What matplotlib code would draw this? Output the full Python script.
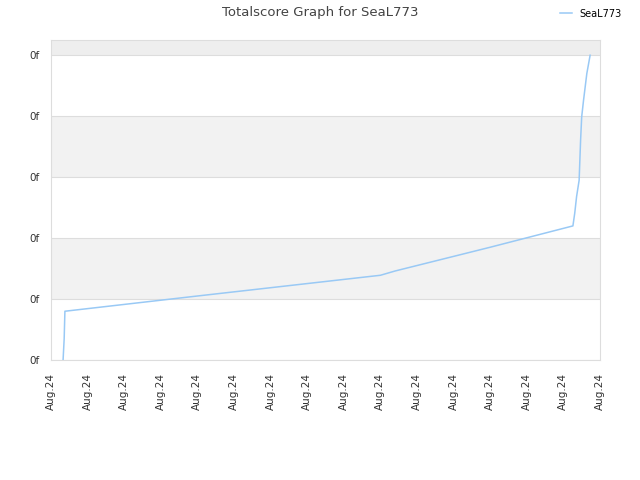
import numpy as np
import matplotlib.pyplot as plt

# curve (x in tick units, y in gridline units)
x_vals = [0.33, 0.36, 0.38, 4.0, 9.0, 9.4, 12.0, 14.26, 14.31, 14.36, 14.43, 14.47, 14.50, 14.55, 14.64, 14.73]
y_vals = [0.0, 0.35, 0.80, 1.05, 1.39, 1.46, 1.85, 2.20, 2.41, 2.68, 2.95, 3.61, 3.99, 4.26, 4.70, 5.00]
x_labels = ["Aug.24"] * 16
y_labels = ["0f"] * 6

line_color = "#99c9f5"
grid_color = "#dddddd"

fig = plt.figure(figsize=(6.4, 4.8), dpi=100)
ax = fig.add_axes([51/640, 1 - 360/480, 549/640, 320/480])

ax.set_xlim(0, 15)
ax.set_ylim(0, 5.25)

# alternating background bands
for i in range(1, 5, 2):
    ax.axhspan(i, i + 1, color="#f2f2f2", zorder=0, lw=0)
ax.axhspan(5, 5.25, color="#eeeeee", zorder=0, lw=0)

ax.plot(x_vals, y_vals, color=line_color, lw=1.1, label="SeaL773", zorder=3)

ax.set_xticks(range(16))
ax.set_xticklabels(x_labels, rotation=90, fontsize=7.5, color="#333333")
ax.set_yticks(range(6))
ax.set_yticklabels(y_labels, fontsize=7.5, color="#333333")
ax.tick_params(axis="x", length=0, pad=9)
ax.tick_params(axis="y", length=0, pad=8)
ax.yaxis.grid(True, color=grid_color, lw=0.8, zorder=1)
ax.set_axisbelow(True)
for s in ax.spines.values():
    s.set_color(grid_color)

fig.text(0.5, 0.974, "Totalscore Graph for SeaL773", ha="center", va="center",
         fontsize=9.5, color="#444444")
fig.legend(loc="upper right", bbox_to_anchor=(0.985, 1.0), frameon=False,
           fontsize=7, handlelength=1.2)

fig.savefig("out.png", dpi=100)
